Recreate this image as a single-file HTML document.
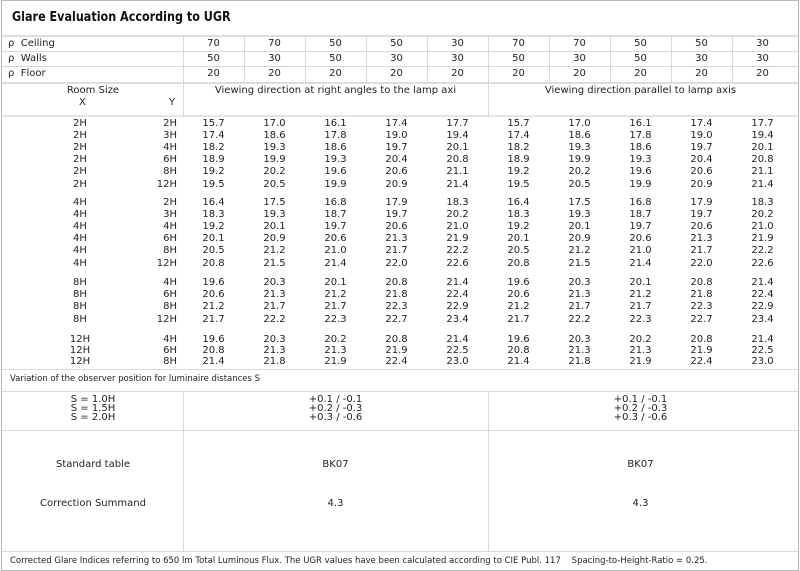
<!DOCTYPE html>
<html><head><meta charset="utf-8"><style>
*{margin:0;padding:0;box-sizing:border-box}
body{width:800px;height:571px;background:#fff;position:relative;overflow:hidden;font-family:"DejaVu Sans","Liberation Sans",sans-serif;font-size:10px;color:#222}
.b{position:absolute;left:1px;top:0;width:798px;height:571px;border:1px solid #b8b8b8}
.h{position:absolute;height:1px;background:#d8d8d8}
.v{position:absolute;width:1px;background:#d8d8d8}
.t{position:absolute;white-space:nowrap;line-height:12px}
.r{position:absolute;left:0;width:800px;height:12px;line-height:12px}
.r span{position:absolute;top:0;text-align:center}
.x{left:0;width:160px}
.y{left:100px;width:77px;text-align:right!important}
</style></head><body>
<div class="b"></div>
<div class="t" style="left:12px;top:10px;font-size:13px;font-weight:bold;color:#111;line-height:16px;transform:scaleX(0.86);transform-origin:0 0">Glare Evaluation According to UGR</div>
<div class="h" style="left:2px;top:35px;width:796px;height:2px;background:#ddd"></div>
<div class="h" style="left:2px;top:51px;width:796px"></div>
<div class="h" style="left:2px;top:66px;width:796px"></div>
<div class="h" style="left:2px;top:82px;width:796px;height:2px;background:#ddd"></div>
<div class="h" style="left:2px;top:115px;width:796px;height:2px;background:#e4e4e4"></div>
<div class="h" style="left:2px;top:369px;width:796px"></div>
<div class="h" style="left:2px;top:391px;width:796px"></div>
<div class="h" style="left:2px;top:430px;width:796px"></div>
<div class="h" style="left:2px;top:551px;width:796px"></div>
<div class="v" style="left:183px;top:36px;height:80px"></div>
<div class="v" style="left:183px;top:391px;height:160px"></div>
<div class="v" style="left:488px;top:36px;height:80px"></div>
<div class="v" style="left:488px;top:391px;height:160px"></div>
<div class="v" style="left:244px;top:36px;height:46px"></div>
<div class="v" style="left:305px;top:36px;height:46px"></div>
<div class="v" style="left:366px;top:36px;height:46px"></div>
<div class="v" style="left:427px;top:36px;height:46px"></div>
<div class="v" style="left:549px;top:36px;height:46px"></div>
<div class="v" style="left:610px;top:36px;height:46px"></div>
<div class="v" style="left:671px;top:36px;height:46px"></div>
<div class="v" style="left:732px;top:36px;height:46px"></div>

<div class="t" style="left:8px;top:38px">ρ&nbsp; Ceiling</div>
<div class="t" style="left:8px;top:53px">ρ&nbsp; Walls</div>
<div class="t" style="left:8px;top:68px">ρ&nbsp; Floor</div>
<div class="r" style="top:38px"><span style="left:183px;width:61px">70</span><span style="left:244px;width:61px">70</span><span style="left:305px;width:61px">50</span><span style="left:366px;width:61px">50</span><span style="left:427px;width:61px">30</span><span style="left:488px;width:61px">70</span><span style="left:549px;width:61px">70</span><span style="left:610px;width:61px">50</span><span style="left:671px;width:61px">50</span><span style="left:732px;width:61px">30</span></div>
<div class="r" style="top:53px"><span style="left:183px;width:61px">50</span><span style="left:244px;width:61px">30</span><span style="left:305px;width:61px">50</span><span style="left:366px;width:61px">30</span><span style="left:427px;width:61px">30</span><span style="left:488px;width:61px">50</span><span style="left:549px;width:61px">30</span><span style="left:610px;width:61px">50</span><span style="left:671px;width:61px">30</span><span style="left:732px;width:61px">30</span></div>
<div class="r" style="top:68px"><span style="left:183px;width:61px">20</span><span style="left:244px;width:61px">20</span><span style="left:305px;width:61px">20</span><span style="left:366px;width:61px">20</span><span style="left:427px;width:61px">20</span><span style="left:488px;width:61px">20</span><span style="left:549px;width:61px">20</span><span style="left:610px;width:61px">20</span><span style="left:671px;width:61px">20</span><span style="left:732px;width:61px">20</span></div>

<div class="t" style="left:0;width:186px;text-align:center;top:85px">Room Size</div>
<div class="t" style="left:79px;top:97px">X</div>
<div class="t" style="left:169px;top:97px">Y</div>
<div class="t" style="left:183px;width:305px;text-align:center;top:85px">Viewing direction at right angles to the lamp axi</div>
<div class="t" style="left:488px;width:305px;text-align:center;top:85px">Viewing direction parallel to lamp axis</div>

<div class="r" style="top:118px"><span class="x">2H</span><span class="y">2H</span><span style="left:183px;width:61px">15.7</span><span style="left:244px;width:61px">17.0</span><span style="left:305px;width:61px">16.1</span><span style="left:366px;width:61px">17.4</span><span style="left:427px;width:61px">17.7</span><span style="left:488px;width:61px">15.7</span><span style="left:549px;width:61px">17.0</span><span style="left:610px;width:61px">16.1</span><span style="left:671px;width:61px">17.4</span><span style="left:732px;width:61px">17.7</span></div>
<div class="r" style="top:130px"><span class="x">2H</span><span class="y">3H</span><span style="left:183px;width:61px">17.4</span><span style="left:244px;width:61px">18.6</span><span style="left:305px;width:61px">17.8</span><span style="left:366px;width:61px">19.0</span><span style="left:427px;width:61px">19.4</span><span style="left:488px;width:61px">17.4</span><span style="left:549px;width:61px">18.6</span><span style="left:610px;width:61px">17.8</span><span style="left:671px;width:61px">19.0</span><span style="left:732px;width:61px">19.4</span></div>
<div class="r" style="top:142px"><span class="x">2H</span><span class="y">4H</span><span style="left:183px;width:61px">18.2</span><span style="left:244px;width:61px">19.3</span><span style="left:305px;width:61px">18.6</span><span style="left:366px;width:61px">19.7</span><span style="left:427px;width:61px">20.1</span><span style="left:488px;width:61px">18.2</span><span style="left:549px;width:61px">19.3</span><span style="left:610px;width:61px">18.6</span><span style="left:671px;width:61px">19.7</span><span style="left:732px;width:61px">20.1</span></div>
<div class="r" style="top:154px"><span class="x">2H</span><span class="y">6H</span><span style="left:183px;width:61px">18.9</span><span style="left:244px;width:61px">19.9</span><span style="left:305px;width:61px">19.3</span><span style="left:366px;width:61px">20.4</span><span style="left:427px;width:61px">20.8</span><span style="left:488px;width:61px">18.9</span><span style="left:549px;width:61px">19.9</span><span style="left:610px;width:61px">19.3</span><span style="left:671px;width:61px">20.4</span><span style="left:732px;width:61px">20.8</span></div>
<div class="r" style="top:166px"><span class="x">2H</span><span class="y">8H</span><span style="left:183px;width:61px">19.2</span><span style="left:244px;width:61px">20.2</span><span style="left:305px;width:61px">19.6</span><span style="left:366px;width:61px">20.6</span><span style="left:427px;width:61px">21.1</span><span style="left:488px;width:61px">19.2</span><span style="left:549px;width:61px">20.2</span><span style="left:610px;width:61px">19.6</span><span style="left:671px;width:61px">20.6</span><span style="left:732px;width:61px">21.1</span></div>
<div class="r" style="top:179px"><span class="x">2H</span><span class="y">12H</span><span style="left:183px;width:61px">19.5</span><span style="left:244px;width:61px">20.5</span><span style="left:305px;width:61px">19.9</span><span style="left:366px;width:61px">20.9</span><span style="left:427px;width:61px">21.4</span><span style="left:488px;width:61px">19.5</span><span style="left:549px;width:61px">20.5</span><span style="left:610px;width:61px">19.9</span><span style="left:671px;width:61px">20.9</span><span style="left:732px;width:61px">21.4</span></div>

<div class="r" style="top:197px"><span class="x">4H</span><span class="y">2H</span><span style="left:183px;width:61px">16.4</span><span style="left:244px;width:61px">17.5</span><span style="left:305px;width:61px">16.8</span><span style="left:366px;width:61px">17.9</span><span style="left:427px;width:61px">18.3</span><span style="left:488px;width:61px">16.4</span><span style="left:549px;width:61px">17.5</span><span style="left:610px;width:61px">16.8</span><span style="left:671px;width:61px">17.9</span><span style="left:732px;width:61px">18.3</span></div>
<div class="r" style="top:209px"><span class="x">4H</span><span class="y">3H</span><span style="left:183px;width:61px">18.3</span><span style="left:244px;width:61px">19.3</span><span style="left:305px;width:61px">18.7</span><span style="left:366px;width:61px">19.7</span><span style="left:427px;width:61px">20.2</span><span style="left:488px;width:61px">18.3</span><span style="left:549px;width:61px">19.3</span><span style="left:610px;width:61px">18.7</span><span style="left:671px;width:61px">19.7</span><span style="left:732px;width:61px">20.2</span></div>
<div class="r" style="top:221px"><span class="x">4H</span><span class="y">4H</span><span style="left:183px;width:61px">19.2</span><span style="left:244px;width:61px">20.1</span><span style="left:305px;width:61px">19.7</span><span style="left:366px;width:61px">20.6</span><span style="left:427px;width:61px">21.0</span><span style="left:488px;width:61px">19.2</span><span style="left:549px;width:61px">20.1</span><span style="left:610px;width:61px">19.7</span><span style="left:671px;width:61px">20.6</span><span style="left:732px;width:61px">21.0</span></div>
<div class="r" style="top:233px"><span class="x">4H</span><span class="y">6H</span><span style="left:183px;width:61px">20.1</span><span style="left:244px;width:61px">20.9</span><span style="left:305px;width:61px">20.6</span><span style="left:366px;width:61px">21.3</span><span style="left:427px;width:61px">21.9</span><span style="left:488px;width:61px">20.1</span><span style="left:549px;width:61px">20.9</span><span style="left:610px;width:61px">20.6</span><span style="left:671px;width:61px">21.3</span><span style="left:732px;width:61px">21.9</span></div>
<div class="r" style="top:245px"><span class="x">4H</span><span class="y">8H</span><span style="left:183px;width:61px">20.5</span><span style="left:244px;width:61px">21.2</span><span style="left:305px;width:61px">21.0</span><span style="left:366px;width:61px">21.7</span><span style="left:427px;width:61px">22.2</span><span style="left:488px;width:61px">20.5</span><span style="left:549px;width:61px">21.2</span><span style="left:610px;width:61px">21.0</span><span style="left:671px;width:61px">21.7</span><span style="left:732px;width:61px">22.2</span></div>
<div class="r" style="top:258px"><span class="x">4H</span><span class="y">12H</span><span style="left:183px;width:61px">20.8</span><span style="left:244px;width:61px">21.5</span><span style="left:305px;width:61px">21.4</span><span style="left:366px;width:61px">22.0</span><span style="left:427px;width:61px">22.6</span><span style="left:488px;width:61px">20.8</span><span style="left:549px;width:61px">21.5</span><span style="left:610px;width:61px">21.4</span><span style="left:671px;width:61px">22.0</span><span style="left:732px;width:61px">22.6</span></div>

<div class="r" style="top:277px"><span class="x">8H</span><span class="y">4H</span><span style="left:183px;width:61px">19.6</span><span style="left:244px;width:61px">20.3</span><span style="left:305px;width:61px">20.1</span><span style="left:366px;width:61px">20.8</span><span style="left:427px;width:61px">21.4</span><span style="left:488px;width:61px">19.6</span><span style="left:549px;width:61px">20.3</span><span style="left:610px;width:61px">20.1</span><span style="left:671px;width:61px">20.8</span><span style="left:732px;width:61px">21.4</span></div>
<div class="r" style="top:289px"><span class="x">8H</span><span class="y">6H</span><span style="left:183px;width:61px">20.6</span><span style="left:244px;width:61px">21.3</span><span style="left:305px;width:61px">21.2</span><span style="left:366px;width:61px">21.8</span><span style="left:427px;width:61px">22.4</span><span style="left:488px;width:61px">20.6</span><span style="left:549px;width:61px">21.3</span><span style="left:610px;width:61px">21.2</span><span style="left:671px;width:61px">21.8</span><span style="left:732px;width:61px">22.4</span></div>
<div class="r" style="top:301px"><span class="x">8H</span><span class="y">8H</span><span style="left:183px;width:61px">21.2</span><span style="left:244px;width:61px">21.7</span><span style="left:305px;width:61px">21.7</span><span style="left:366px;width:61px">22.3</span><span style="left:427px;width:61px">22.9</span><span style="left:488px;width:61px">21.2</span><span style="left:549px;width:61px">21.7</span><span style="left:610px;width:61px">21.7</span><span style="left:671px;width:61px">22.3</span><span style="left:732px;width:61px">22.9</span></div>
<div class="r" style="top:314px"><span class="x">8H</span><span class="y">12H</span><span style="left:183px;width:61px">21.7</span><span style="left:244px;width:61px">22.2</span><span style="left:305px;width:61px">22.3</span><span style="left:366px;width:61px">22.7</span><span style="left:427px;width:61px">23.4</span><span style="left:488px;width:61px">21.7</span><span style="left:549px;width:61px">22.2</span><span style="left:610px;width:61px">22.3</span><span style="left:671px;width:61px">22.7</span><span style="left:732px;width:61px">23.4</span></div>

<div class="r" style="top:334px"><span class="x">12H</span><span class="y">4H</span><span style="left:183px;width:61px">19.6</span><span style="left:244px;width:61px">20.3</span><span style="left:305px;width:61px">20.2</span><span style="left:366px;width:61px">20.8</span><span style="left:427px;width:61px">21.4</span><span style="left:488px;width:61px">19.6</span><span style="left:549px;width:61px">20.3</span><span style="left:610px;width:61px">20.2</span><span style="left:671px;width:61px">20.8</span><span style="left:732px;width:61px">21.4</span></div>
<div class="r" style="top:345px"><span class="x">12H</span><span class="y">6H</span><span style="left:183px;width:61px">20.8</span><span style="left:244px;width:61px">21.3</span><span style="left:305px;width:61px">21.3</span><span style="left:366px;width:61px">21.9</span><span style="left:427px;width:61px">22.5</span><span style="left:488px;width:61px">20.8</span><span style="left:549px;width:61px">21.3</span><span style="left:610px;width:61px">21.3</span><span style="left:671px;width:61px">21.9</span><span style="left:732px;width:61px">22.5</span></div>
<div class="r" style="top:356px"><span class="x">12H</span><span class="y">8H</span><span style="left:183px;width:61px">21.4</span><span style="left:244px;width:61px">21.8</span><span style="left:305px;width:61px">21.9</span><span style="left:366px;width:61px">22.4</span><span style="left:427px;width:61px">23.0</span><span style="left:488px;width:61px">21.4</span><span style="left:549px;width:61px">21.8</span><span style="left:610px;width:61px">21.9</span><span style="left:671px;width:61px">22.4</span><span style="left:732px;width:61px">23.0</span></div>

<div class="t" style="left:10px;top:373px;font-size:8.5px">Variation of the observer position for luminaire distances S</div>
<div class="t" style="left:0;width:186px;text-align:center;top:395px;line-height:9px">S = 1.0H<br>S = 1.5H<br>S = 2.0H</div>
<div class="t" style="left:183px;width:305px;text-align:center;top:395px;line-height:9px">+0.1 / -0.1<br>+0.2 / -0.3<br>+0.3 / -0.6</div>
<div class="t" style="left:488px;width:305px;text-align:center;top:395px;line-height:9px">+0.1 / -0.1<br>+0.2 / -0.3<br>+0.3 / -0.6</div>
<div class="t" style="left:0;width:186px;text-align:center;top:459px">Standard table</div>
<div class="t" style="left:183px;width:305px;text-align:center;top:459px">BK07</div>
<div class="t" style="left:488px;width:305px;text-align:center;top:459px">BK07</div>
<div class="t" style="left:0;width:186px;text-align:center;top:498px">Correction Summand</div>
<div class="t" style="left:183px;width:305px;text-align:center;top:498px">4.3</div>
<div class="t" style="left:488px;width:305px;text-align:center;top:498px">4.3</div>
<div class="t" style="left:10px;top:555px;font-size:8.5px">Corrected Glare Indices referring to 650 lm Total Luminous Flux. The UGR values have been calculated according to CIE Publ. 117&nbsp;&nbsp;&nbsp; Spacing-to-Height-Ratio = 0.25.</div>
</body></html>
